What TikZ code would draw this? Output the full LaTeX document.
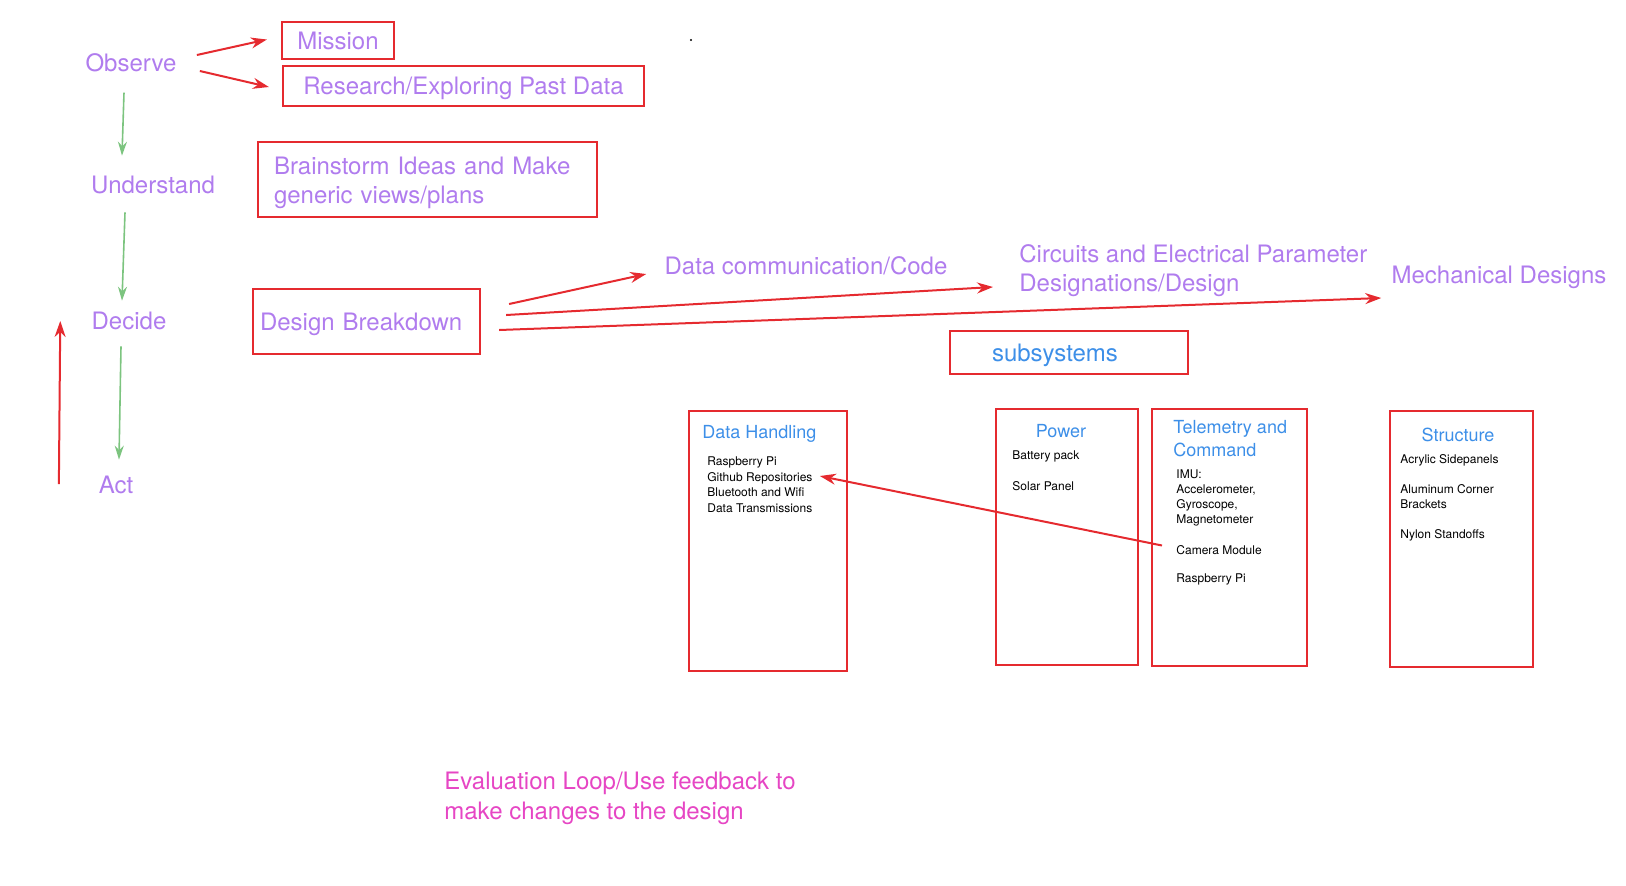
\documentclass[tikz,border=0pt]{standalone}
\usepackage{fontspec}
\setmainfont{TeX Gyre Heros}
\usetikzlibrary{arrows.meta,positioning}
\definecolor{obspurple}{HTML}{B07CEE}
\definecolor{boxred}{HTML}{E52A2F}
\definecolor{arrowgreen}{HTML}{7CC47F}
\definecolor{subblue}{HTML}{3D8FE8}
\definecolor{evalpink}{HTML}{E646C4}
\begin{document}
\begin{tikzpicture}[x=0.5pt,y=-0.5pt,
    lbl/.style={inner sep=0pt,text=obspurple,font=\fontsize{12}{14.5}\selectfont},
    redbox/.style={draw=boxred,line width=1.1pt,inner sep=0pt},
    flat/.style={text depth=0pt},
    subtitle/.style={inner sep=0pt,text=subblue,font=\fontsize{9}{11.5}\selectfont},
    item/.style={inner sep=0pt,anchor=west,align=left,font=\fontsize{6}{7.5}\selectfont},
    redarrow/.style={draw=boxred,line width=1pt,-{Stealth[length=8pt,width=5.5pt]}},
    greenarrow/.style={draw=arrowgreen,line width=0.8pt,-{Stealth[length=7pt,width=4.5pt]}}]
  \useasboundingbox (0,0) rectangle (1626,885);
  \node[lbl] (observe) at (131,63) {Observe};
  \node[lbl] (understand) at (153,184.5) {Understand};
  \node[lbl] (decide) at (129,321) {Decide};
  \node[lbl] (act) at (116,484.5) {Act};
  \node[redbox,flat,lbl,minimum width=56pt,minimum height=18.5pt] (mission) at (338,40.5) {Mission};
  \node[redbox,flat,lbl,minimum width=180.5pt,minimum height=20pt] (research) at (463.5,86) {Research/Exploring Past Data};
  \node[redbox,lbl,align=left,text width=153.5pt,text height=11.8pt,inner xsep=8pt,minimum height=37.5pt] (brainstorm) at (427.5,179.5) {Brainstorm Ideas and Make\\generic views/plans};
  \node[redbox,flat,lbl,align=left,text width=106.5pt,inner xsep=3.5pt,minimum height=32.5pt] (design) at (366.5,321.5) {Design Breakdown};
  \node[lbl] (datacomm) at (806,266) {Data communication/Code};
  \node[lbl,align=left,anchor=west] (circuits) at (1019,270.5) {Circuits and Electrical Parameter\\Designations/Design};
  \node[lbl] (mechanical) at (1499,277) {Mechanical Designs};
  \node[redbox,flat,text=subblue,font=\fontsize{12}{14.5}\selectfont,align=left,text width=77pt,inner xsep=21pt,minimum height=21.5pt] (subsystems) at (1069,352.5) {subsystems};
  \fill (691,40) circle[radius=1.2];

  \node[redbox,minimum width=79pt,minimum height=130pt] (dhbox) at (768,541) {};
  \node[redbox,minimum width=71pt,minimum height=128pt] (pwbox) at (1067,537) {};
  \node[redbox,minimum width=77.5pt,minimum height=128.5pt] (tcbox) at (1229.5,537.5) {};
  \node[redbox,minimum width=71.5pt,minimum height=128pt] (stbox) at (1461.5,539) {};

  \node[subtitle,anchor=west] (dhtitle) at (702,434) {Data Handling};
  \node[subtitle] (pwtitle) at (1061,431.5) {Power};
  \node[subtitle,anchor=west,align=left] (tctitle) at (1173,438.5) {Telemetry and\\Command};
  \node[subtitle] (sttitle) at (1458,434.5) {Structure};

  \node[item] (raspi) at (707,462.5) {Raspberry Pi};
  \node[item] (github) at (707,478) {Github Repositories};
  \node[item] (bluetooth) at (707,492.5) {Bluetooth and Wifi};
  \node[item] (transmit) at (707,508) {Data Transmissions};
  \node[item] (battery) at (1012,456) {Battery pack};
  \node[item] (solar) at (1012,486) {Solar Panel};
  \node[item] (imu) at (1176,498) {IMU:\\Accelerometer,\\Gyroscope,\\Magnetometer};
  \node[item] (camera) at (1176,550) {Camera Module};
  \node[item] (tcraspi) at (1176,579.5) {Raspberry Pi};
  \node[item] (acrylic) at (1400,460) {Acrylic Sidepanels};
  \node[item] (brackets) at (1400,497) {Aluminum Corner\\Brackets};
  \node[item] (nylon) at (1400,535) {Nylon Standoffs};

  \node[anchor=west,align=left,inner sep=0pt,text=evalpink,font=\fontsize{12}{15}\selectfont] (evaluation) at (444,798.5) {Evaluation Loop/Use feedback to\\make changes to the design};

  \begin{scope}[redarrow]
    \draw ([shift={(20,-8)}]observe.east) to ([shift={(-14,-1)}]mission.west);
    \draw ([shift={(23,8)}]observe.east) to ([shift={(-13,1)}]research.west);
    \draw ([shift={(-39.5,-0.5)}]act.west) to ([shift={(-31,0)}]decide.west);
    \draw ([shift={(28,-17.5)}]design.east) to ([shift={(-18,8)}]datacomm.west);
    \draw ([shift={(25,-6.5)}]design.east) to ([shift={(-26,16.5)}]circuits.west);
    \draw ([shift={(18,8.5)}]design.east) to ([shift={(-10,21)}]mechanical.west);
    \draw ([shift={(-14,-4.5)}]camera.west) to ([shift={(7,-2)}]github.east);
  \end{scope}
  \begin{scope}[greenarrow]
    \draw ([shift={(-7,20)}]observe.south) to ([shift={(-31,-19.5)}]understand.north);
    \draw ([shift={(-28,18.5)}]understand.south) to ([shift={(-7,-11)}]decide.north);
    \draw ([shift={(-8,16)}]decide.south) to ([shift={(3,-15.5)}]act.north);
  \end{scope}
\end{tikzpicture}
\end{document}
